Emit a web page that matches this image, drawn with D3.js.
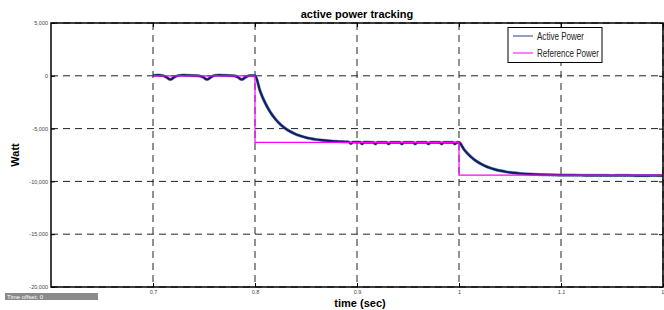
<!DOCTYPE html>
<html><head><meta charset="utf-8">
<script src="https://cdn.jsdelivr.net/npm/d3@7"></script>
<style>body{margin:0;background:#fff}svg{display:block}</style>
</head><body>
<svg id="c" width="664" height="310"></svg>
<script>
const title = "active power tracking";
const xLabel = "time (sec)";
const yLabel = "Watt";
const xTicks = [0.7, 0.8, 0.9, 1, 1.1, 1.2];
const xTickLabels = ["0.7", "0.8", "0.9", "1", "1.1", "1."];
const yTicks = [5000, 0, -5000, -10000, -15000, -20000];
const yTickLabels = ["5,000", "0", "-5,000", "-10,000", "-15,000", "-20,000"];
const seriesNames = ["Active Power", "Reference Power"];

const refTime = [0.7, 0.8, 0.8, 1.0, 1.0, 1.2];
const refPower = [0, 0, -6300, -6300, -9400, -9400];

const activeTime = [0.700,0.705,0.710,0.713,0.717,0.721,0.725,0.730,0.735,0.740,0.745,0.749,0.753,0.757,0.760,0.765,0.770,0.775,0.780,0.783,0.787,0.791,0.795,0.800,
  0.805,0.810,0.815,0.820,0.825,0.830,0.835,0.840,0.845,0.850,0.855,0.860,0.865,0.870,0.875,0.880,0.885,0.890,
  0.892,0.894,0.896,0.903,0.905,0.907,0.916,0.918,0.920,0.929,0.931,0.933,0.942,0.944,0.946,0.955,0.957,0.959,0.968,0.970,0.972,0.981,0.983,0.985,0.994,0.996,0.998,1.000,
  1.005,1.010,1.015,1.020,1.025,1.030,1.035,1.040,1.045,1.050,1.055,1.060,1.070,1.080,1.090,1.100,1.110,1.120,1.130,1.140,1.150,1.160,1.170,1.180,1.190,1.200];
const activePower = [30,60,0,-120,-350,-120,30,60,40,20,0,-120,-350,-120,30,60,40,20,0,-120,-350,-120,30,20,
  -1450,-2580,-3440,-4100,-4610,-5000,-5300,-5530,-5700,-5850,-5950,-6030,-6090,-6140,-6180,-6210,-6240,-6260,
  -6270,-6420,-6280,-6290,-6440,-6290,-6300,-6450,-6300,-6300,-6450,-6300,-6300,-6450,-6300,-6300,-6450,-6300,-6300,-6450,-6300,-6300,-6450,-6300,-6300,-6450,-6300,-6310,
  -6990,-7520,-7940,-8260,-8510,-8710,-8860,-8980,-9070,-9150,-9200,-9250,-9310,-9350,-9380,-9400,-9410,-9420,-9430,-9420,-9440,-9430,-9440,-9450,-9440,-9450];

const svg = d3.select("#c");
const L = 51, R = 663, T = 23, B = 287;
const x = d3.scaleLinear().domain([0.6, 1.2]).range([L, R]);
const y = d3.scaleLinear().domain([-20000, 5000]).range([B, T]);

// grid
const g = svg.append("g");
g.selectAll(".gx").data(xTicks).join("line")
  .attr("x1", d => x(d)).attr("x2", d => x(d)).attr("y1", T).attr("y2", B)
  .attr("stroke", "#222").attr("stroke-width", 1).attr("stroke-dasharray", "7,5");
g.selectAll(".gy").data(yTicks).join("line")
  .attr("y1", d => y(d)).attr("y2", d => y(d)).attr("x1", L).attr("x2", R)
  .attr("stroke", "#222").attr("stroke-width", 1).attr("stroke-dasharray", "7,5");

// ticks inward
const xAxisB = d3.axisBottom(x).tickValues(xTicks).tickSizeInner(-4).tickSizeOuter(0).tickFormat((d,i) => xTickLabels[i]).tickPadding(3.5);
const gxa = svg.append("g").attr("transform", `translate(0,${B})`).call(xAxisB);
gxa.select(".domain").remove();
gxa.selectAll("text").attr("font-size", 5.5).attr("font-family", "Arial, Liberation Sans, sans-serif").attr("fill", "#444");
gxa.selectAll("line").attr("stroke", "#000");
const xAxisT = d3.axisTop(x).tickValues(xTicks).tickSizeInner(-4).tickSizeOuter(0).tickFormat("");
const gxt = svg.append("g").attr("transform", `translate(0,${T})`).call(xAxisT);
gxt.select(".domain").remove();

const yAxisL = d3.axisLeft(y).tickValues(yTicks).tickSizeInner(-4).tickSizeOuter(0).tickFormat((d,i) => yTickLabels[i]).tickPadding(3);
const gya = svg.append("g").attr("transform", `translate(${L},0)`).call(yAxisL);
gya.select(".domain").remove();
gya.selectAll("text").attr("font-size", 5.5).attr("font-family", "Arial, Liberation Sans, sans-serif").attr("fill", "#444");
const yAxisR = d3.axisRight(y).tickValues(yTicks).tickSizeInner(-4).tickSizeOuter(0).tickFormat("");
const gyr = svg.append("g").attr("transform", `translate(${R},0)`).call(yAxisR);
gyr.select(".domain").remove();

// data lines
const line = d3.line().x(d => x(d[0])).y(d => y(d[1])).curve(d3.curveMonotoneX);
const act = activeTime.map((t, i) => [t, activePower[i]]);
svg.append("path").datum(act).attr("d", line).attr("fill", "none")
  .attr("stroke", "#4a5c9c").attr("stroke-width", 3.2).attr("stroke-linejoin", "round").attr("opacity", 0.6);
svg.append("path").datum(act).attr("d", line).attr("fill", "none")
  .attr("stroke", "#0d2063").attr("stroke-width", 2.2).attr("stroke-linejoin", "round");
const ref = refTime.map((t, i) => [t, refPower[i]]);
const refLine = d3.line().x(d => x(d[0])).y(d => y(d[1]));
svg.append("path").datum(ref).attr("d", refLine).attr("fill", "none")
  .attr("stroke", "#ff00ff").attr("stroke-width", 1.2);

// frame
svg.append("rect").attr("x", L).attr("y", T).attr("width", R - L).attr("height", B - T)
  .attr("fill", "none").attr("stroke", "#000").attr("stroke-width", 1.5);

// title and labels
svg.append("text").attr("x", 357).attr("y", 18).attr("text-anchor", "middle")
  .attr("font-family", "Arial, Liberation Sans, sans-serif").attr("font-weight", "bold").attr("font-size", 11).text(title);
svg.append("text").attr("x", 360).attr("y", 307).attr("text-anchor", "middle")
  .attr("font-family", "Arial, Liberation Sans, sans-serif").attr("font-weight", "bold").attr("font-size", 11).text(xLabel);
svg.append("text").attr("transform", "translate(19,155) rotate(-90)").attr("text-anchor", "middle")
  .attr("font-family", "Arial, Liberation Sans, sans-serif").attr("font-weight", "bold").attr("font-size", 11).text(yLabel);

// legend
const lg = svg.append("g");
lg.append("rect").attr("x", 508).attr("y", 27.5).attr("width", 94).attr("height", 35)
  .attr("fill", "#fff").attr("stroke", "#000").attr("stroke-width", 1);
const legColors = ["#2a3a8a", "#ff00ff"];
const legY = [36, 53];
seriesNames.forEach((n, i) => {
  lg.append("line").attr("x1", 513).attr("x2", 533).attr("y1", legY[i]).attr("y2", legY[i])
    .attr("stroke", legColors[i]).attr("stroke-width", 1);
  lg.append("text").attr("x", 537).attr("y", legY[i] + 3.5)
    .attr("font-family", "Liberation Sans Narrow, Arial Narrow, sans-serif").attr("font-size", 10)
    .attr("textLength", i === 0 ? 47 : 62).attr("lengthAdjust", "spacingAndGlyphs")
    .attr("fill", "#222").text(n);
});

// time offset box
svg.append("rect").attr("x", 5).attr("y", 293).attr("width", 93).attr("height", 7).attr("fill", "#8a8a8a");
svg.append("text").attr("x", 7).attr("y", 299).attr("font-family", "Arial, Liberation Sans, sans-serif")
  .attr("font-size", 6).attr("fill", "#fff").text("Time offset:  0");
</script>
</body></html>
